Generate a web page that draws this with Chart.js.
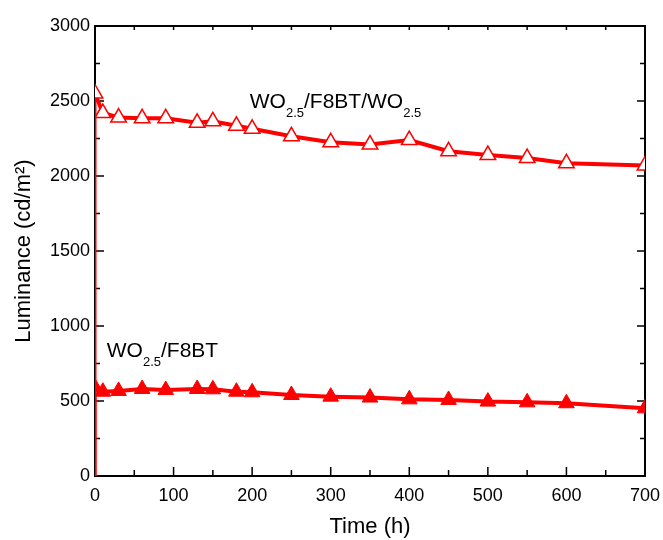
<!DOCTYPE html>
<html lang="en">
<head>
<meta charset="UTF-8">
<title>Luminance vs time</title>
<script src="https://cdn.jsdelivr.net/npm/chart.js"></script>
<style>
  html, body { margin: 0; padding: 0; background: #fff; }
  #wrap { width: 663px; height: 540px; }
</style>
</head>
<body>
<div id="wrap"><canvas id="myChart"></canvas></div>
<script>
// time (h) and luminance (cd/m2)
const hours   = [0, 0, 10, 30, 60, 90, 130, 150, 180, 200, 250, 300, 350, 400, 450, 500, 550, 600, 700];
const bilayer = [0, 2550, 2420, 2390, 2385, 2385, 2355, 2365, 2335, 2315, 2265, 2225, 2210, 2240, 2165, 2140, 2120, 2085, 2070];
const single  = [0, 590, 562, 567, 580, 573, 580, 578, 562, 558, 540, 529, 523, 511, 507, 496, 491, 485, 451];

const xRange = [0, 700], xStep = 100, xMinor = 50;
const yRange = [0, 3000], yStep = 500, yMinor = 250;

// in-plot labels: [text, isSubscript]
const bilayerLabel = [['WO', 0], ['2.5', 1], ['/F8BT/WO', 0], ['2.5', 1]];
const singleLabel  = [['WO', 0], ['2.5', 1], ['/F8BT', 0]];
const bilayerLabelAt = { x: 197, y: 2453 };
const singleLabelAt  = { x: 15, y: 793 };

const RED = '#ff0000';
Chart.defaults.font.family = "'Liberation Sans', Arial, Helvetica, sans-serif";
Chart.defaults.color = '#000';

const toPoints = ys => hours.map((h, i) => ({ x: h, y: ys[i] }));

// frame + inward ticks on all four sides
const framePlugin = {
    id: 'frame',
    beforeDatasetsDraw(chart) {
        const { ctx, chartArea: a, scales: { x, y } } = chart;
        ctx.save();
        ctx.strokeStyle = '#000';
        ctx.lineWidth = 1.5;
        ctx.beginPath();
        for (let t = xRange[0]; t <= xRange[1]; t += xMinor) {
            const px = x.getPixelForValue(t);
            const major = t % xStep === 0;
            ctx.moveTo(px, a.bottom); ctx.lineTo(px, a.bottom - (major ? 9 : 6));
            ctx.moveTo(px, a.top); ctx.lineTo(px, a.top + 4);
        }
        for (let v = yRange[0]; v <= yRange[1]; v += yMinor) {
            const py = y.getPixelForValue(v);
            const major = v % yStep === 0;
            ctx.moveTo(a.left, py); ctx.lineTo(a.left + (major ? 9 : 5), py);
            ctx.moveTo(a.right, py); ctx.lineTo(a.right - (major ? 8 : 5), py);
        }
        ctx.stroke();
        ctx.lineWidth = 2;
        ctx.strokeRect(a.left, a.top, a.right - a.left, a.bottom - a.top);
        ctx.restore();
    }
};

function drawLabel(ctx, parts, px, py) {
    let cx = px;
    ctx.textBaseline = 'alphabetic';
    ctx.textAlign = 'left';
    parts.forEach(([txt, sub]) => {
        ctx.font = (sub ? '13px' : '21px') + " 'Liberation Sans', Arial, sans-serif";
        ctx.fillText(txt, cx, sub ? py + 9 : py);
        cx += ctx.measureText(txt).width;
    });
}

const labelPlugin = {
    id: 'seriesLabels',
    afterDatasetsDraw(chart) {
        const { ctx, scales: { x, y } } = chart;
        ctx.save();
        ctx.fillStyle = '#000';
        drawLabel(ctx, bilayerLabel, x.getPixelForValue(bilayerLabelAt.x), y.getPixelForValue(bilayerLabelAt.y));
        drawLabel(ctx, singleLabel, x.getPixelForValue(singleLabelAt.x), y.getPixelForValue(singleLabelAt.y));
        ctx.restore();
    }
};

const seriesStyle = (filled) => ({
    borderColor: RED,
    backgroundColor: filled ? RED : '#fff',
    pointStyle: 'triangle',
    pointRadius: c => c.dataIndex === 0 ? 0 : 9,
    pointBorderWidth: filled ? 1 : 1.5,
    pointBorderColor: RED,
    pointBackgroundColor: filled ? RED : '#fff',
    borderWidth: 4,
    segment: { borderWidth: c => c.p0DataIndex === 0 ? 3 : 4 },
    tension: 0,
    clip: 0
});

const ctx = document.getElementById('myChart');
new Chart(ctx, {
    type: 'line',
    data: {
        datasets: [
            Object.assign({ label: 'WO2.5/F8BT/WO2.5', data: toPoints(bilayer) }, seriesStyle(false)),
            Object.assign({ label: 'WO2.5/F8BT', data: toPoints(single) }, seriesStyle(true))
        ]
    },
    options: {
        responsive: true,
        maintainAspectRatio: false,
        animation: false,
        layout: { padding: { top: 26, right: 18, left: 0, bottom: 0 } },
        plugins: { legend: { display: false }, tooltip: { enabled: false } },
        scales: {
            x: {
                type: 'linear',
                min: xRange[0], max: xRange[1],
                grid: { display: false, drawTicks: false },
                border: { display: false },
                ticks: { stepSize: xStep, padding: 9, font: { size: 18 }, callback: v => String(v) },
                title: { display: true, text: 'Time (h)', font: { size: 22 }, padding: { top: 0, bottom: 0 } },
                afterFit: s => { s.height = 64; s.paddingLeft = 0; s.paddingRight = 0; }
            },
            y: {
                min: yRange[0], max: yRange[1],
                grid: { display: false, drawTicks: false },
                border: { display: false },
                ticks: { stepSize: yStep, padding: 5, font: { size: 18 }, callback: v => String(v) },
                title: { display: true, text: 'Luminance (cd/m²)', font: { size: 22 }, padding: { top: 11, bottom: 0 } },
                afterFit: s => { s.width = 95; s.paddingTop = 0; s.paddingBottom = 0; }
            }
        }
    },
    plugins: [framePlugin, labelPlugin]
});
</script>
</body>
</html>
